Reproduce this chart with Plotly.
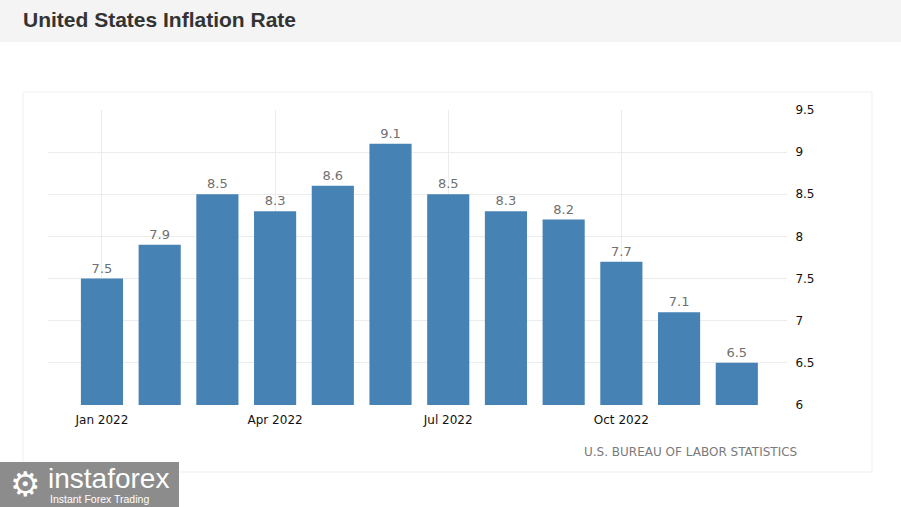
import plotly.graph_objects as go

months = ["Jan 2022", "Feb 2022", "Mar 2022", "Apr 2022", "May 2022", "Jun 2022",
          "Jul 2022", "Aug 2022", "Sep 2022", "Oct 2022", "Nov 2022", "Dec 2022"]
inflation = [7.5, 7.9, 8.5, 8.3, 8.6, 9.1, 8.5, 8.3, 8.2, 7.7, 7.1, 6.5]
x_ticks = ["Jan 2022", "Apr 2022", "Jul 2022", "Oct 2022"]
y_ticks = [6, 6.5, 7, 7.5, 8, 8.5, 9, 9.5]
y_tick_text = ["6", "6.5", "7", "7.5", "8", "8.5", "9", "9.5"]

W, H = 901, 507
L, R, T, B = 48, 787, 110, 405  # plot area in pixels


def px(x):
    return (x - L) / (R - L)


def py(y):
    return (B - y) / (B - T)


fig = go.Figure()
fig.add_trace(go.Bar(
    x=months, y=inflation,
    marker=dict(color="#4682b4", line=dict(width=0)),
    text=[f"{v:.1f}" for v in inflation],
    textposition="outside",
    textfont=dict(family="DejaVu Sans", size=13, color="#707070"),
    cliponaxis=False,
    hoverinfo="x+y",
))

shapes = [
    # header band
    dict(type="rect", xref="paper", yref="paper", x0=px(0), x1=px(W), y0=py(0), y1=py(42),
         fillcolor="#f4f4f4", line=dict(width=0), layer="below"),
    # card border
    dict(type="rect", xref="paper", yref="paper", x0=px(23), x1=px(872), y0=py(92), y1=py(472),
         fillcolor="rgba(0,0,0,0)", line=dict(color="#efefef", width=1), layer="below"),
    # logo box
    dict(type="rect", xref="paper", yref="paper", x0=px(0), x1=px(179), y0=py(462), y1=py(507),
         fillcolor="#8c8c8c", line=dict(width=0), layer="above"),
]

annotations = [
    dict(text="<b>United States Inflation Rate</b>", xref="paper", yref="paper",
         x=px(21), y=py(19), xanchor="left", yanchor="middle", showarrow=False,
         font=dict(family="Liberation Sans", size=21, color="#333333")),
    dict(text="U.S. BUREAU OF LABOR STATISTICS", xref="paper", yref="paper",
         x=px(799), y=py(452), xanchor="right", yanchor="middle", showarrow=False,
         font=dict(family="DejaVu Sans", size=12, color="#7a7a7a")),
    dict(text="⚙", xref="paper", yref="paper",
         x=px(25), y=py(484), xanchor="center", yanchor="middle", showarrow=False,
         font=dict(family="DejaVu Sans", size=34, color="#ffffff")),
    dict(text="instaforex", xref="paper", yref="paper",
         x=px(46), y=py(478), xanchor="left", yanchor="middle", showarrow=False,
         font=dict(family="Liberation Sans", size=28, color="#ffffff")),
    dict(text="Instant Forex Trading", xref="paper", yref="paper",
         x=px(48), y=py(499), xanchor="left", yanchor="middle", showarrow=False,
         font=dict(family="Liberation Sans", size=10.5, color="#ffffff")),
]

fig.update_layout(
    width=W, height=H,
    margin=dict(l=L, r=W - R, t=T, b=H - B, pad=0),
    paper_bgcolor="#ffffff", plot_bgcolor="#ffffff",
    bargap=0.27,
    showlegend=False,
    shapes=shapes,
    annotations=annotations,
    xaxis=dict(
        type="category",
        range=[-0.935, 11.87],
        tickmode="array", tickvals=x_ticks, ticktext=["Jan 2022", "Apr 2022", "Jul 2022", "Oct 2022"],
        showgrid=True, gridcolor="#ececec", gridwidth=1,
        ticks="outside", ticklen=4, tickcolor="rgba(0,0,0,0)",
        tickfont=dict(family="DejaVu Sans", size=12, color="#111111"),
        showline=False, zeroline=False,
        fixedrange=True,
    ),
    yaxis=dict(
        side="right",
        range=[6, 9.5],
        tickmode="array", tickvals=y_ticks, ticktext=y_tick_text,
        showgrid=True, gridcolor="#ececec", gridwidth=1,
        ticks="outside", ticklen=5, tickcolor="rgba(0,0,0,0)",
        tickfont=dict(family="DejaVu Sans", size=12, color="#111111"),
        showline=False, zeroline=False,
        fixedrange=True,
    ),
)

fig.write_html(
    "out.html",
    config={"displayModeBar": False},
    post_script="document.body.style.margin='0';document.body.style.overflow='hidden';",
)
